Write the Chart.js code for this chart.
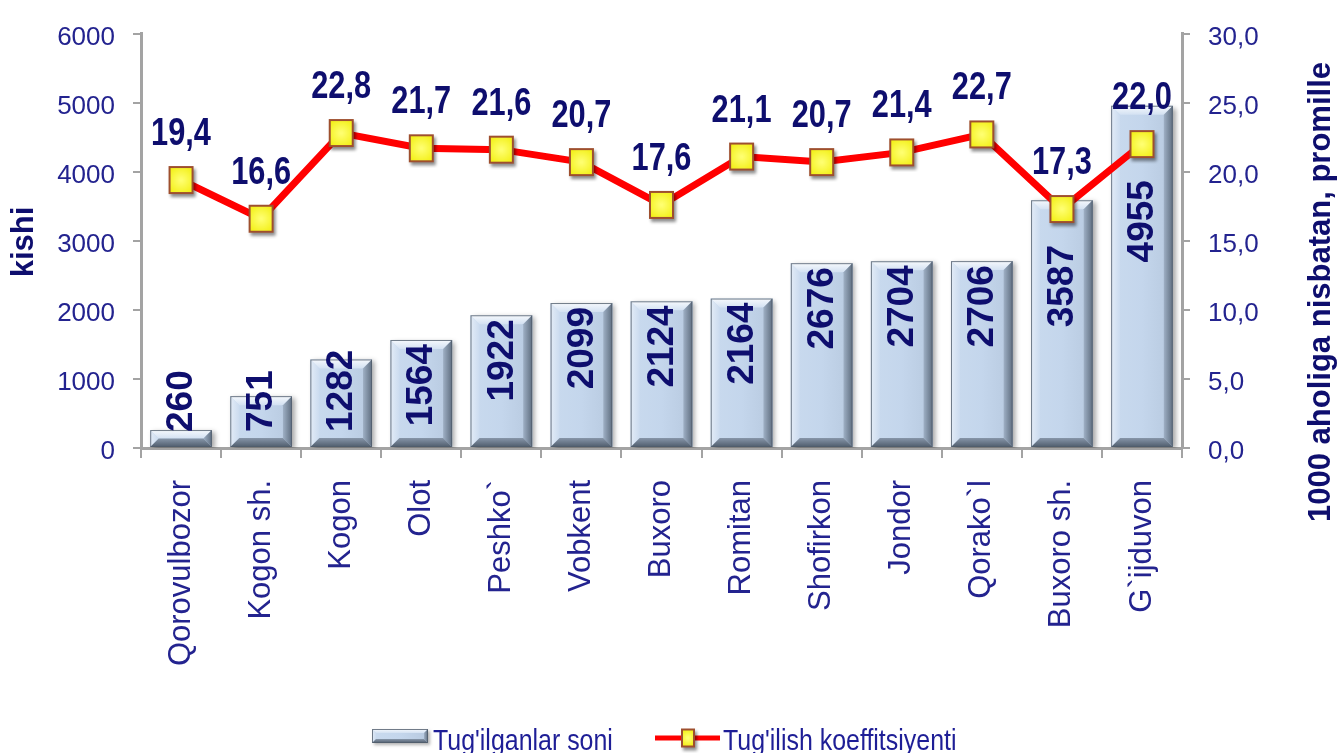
<!DOCTYPE html>
<html><head><meta charset="utf-8">
<style>html,body{margin:0;padding:0;background:#fff;}#wrap{width:1338px;height:753px;position:relative;}</style>
<script src="https://cdn.jsdelivr.net/npm/chart.js@4.4.1/dist/chart.umd.min.js"></script>
</head><body><div id="wrap"><canvas id="c" width="1338" height="753"></canvas></div>
<script>
const categories = ['Qorovulbozor','Kogon sh.','Kogon','Olot','Peshko`','Vobkent','Buxoro','Romitan','Shofirkon','Jondor','Qorako`l','Buxoro sh.','G`ijduvon'];
const births = [260,751,1282,1564,1922,2099,2124,2164,2676,2704,2706,3587,4955];
const rates = [19.4,16.6,22.8,21.7,21.6,20.7,17.6,21.1,20.7,21.4,22.7,17.3,22.0];
const birthsLabel = "Tug'ilganlar soni";
const ratesLabel = "Tug'ilish koeffitsiyenti";
const leftTitle = 'kishi';
const rightTitle = '1000 aholiga nisbatan, promille';
const leftRange = [0, 6000, 1000];
const rightRange = [0, 30, 5];

const NAVY = '#0e0e6e';
const TICK = '#23238f';
const AXIS = '#a3a3a3';
const FONT = '"Liberation Sans", Arial, sans-serif';
const fmt = v => v.toFixed(1).replace('.', ',');

function makeMarker(w, h, bw) {
  const pad = 6, c = document.createElement('canvas');
  c.width = w + pad * 2; c.height = h + pad * 2;
  const g = c.getContext('2d');
  g.shadowColor = 'rgba(0,0,0,0.45)'; g.shadowBlur = 3; g.shadowOffsetX = 2; g.shadowOffsetY = 3;
  g.fillStyle = '#9e4f2e'; g.fillRect(pad, pad, w, h);
  g.shadowColor = 'transparent';
  const gr = g.createRadialGradient(pad + w / 2, pad + h / 2, 1, pad + w / 2, pad + h / 2, w * 0.75);
  gr.addColorStop(0, '#ffff70'); gr.addColorStop(1, '#f0ec00');
  g.fillStyle = gr; g.fillRect(pad + bw, pad + bw, w - 2 * bw, h - 2 * bw);
  return c;
}
const plotMarker = makeMarker(25, 28, 2);
const legendMarker = makeMarker(14, 19, 2);

function bevelBar(ctx, x0, x1, top, bottom, bSize) {
  const b = Math.min(bSize, (bottom - top) / 2, (x1 - x0) / 2);
  let g = ctx.createLinearGradient(x0, 0, x1, 0);
  g.addColorStop(0, '#c9daee'); g.addColorStop(0.5, '#c4d6ec'); g.addColorStop(1, '#b7c9df');
  ctx.fillStyle = g; ctx.fillRect(x0, top, x1 - x0, bottom - top);
  g = ctx.createLinearGradient(0, top, 0, top + b);
  g.addColorStop(0, '#f6f9fd'); g.addColorStop(1, '#d3e1f2');
  ctx.fillStyle = g; ctx.beginPath();
  ctx.moveTo(x0, top); ctx.lineTo(x1, top); ctx.lineTo(x1 - b, top + b); ctx.lineTo(x0 + b, top + b); ctx.closePath(); ctx.fill();
  g = ctx.createLinearGradient(x0, 0, x0 + b, 0);
  g.addColorStop(0, '#e3ecf7'); g.addColorStop(1, '#cbdbef');
  ctx.fillStyle = g; ctx.beginPath();
  ctx.moveTo(x0, top); ctx.lineTo(x0 + b, top + b); ctx.lineTo(x0 + b, bottom - b); ctx.lineTo(x0, bottom); ctx.closePath(); ctx.fill();
  g = ctx.createLinearGradient(x1 - b, 0, x1, 0);
  g.addColorStop(0, '#9fb0c5'); g.addColorStop(1, '#5f6e80');
  ctx.fillStyle = g; ctx.beginPath();
  ctx.moveTo(x1, top); ctx.lineTo(x1, bottom); ctx.lineTo(x1 - b, bottom - b); ctx.lineTo(x1 - b, top + b); ctx.closePath(); ctx.fill();
  g = ctx.createLinearGradient(0, bottom - b, 0, bottom);
  g.addColorStop(0, '#8796a9'); g.addColorStop(1, '#4f5c6c');
  ctx.fillStyle = g; ctx.beginPath();
  ctx.moveTo(x0, bottom); ctx.lineTo(x1, bottom); ctx.lineTo(x1 - b, bottom - b); ctx.lineTo(x0 + b, bottom - b); ctx.closePath(); ctx.fill();
  ctx.strokeStyle = 'rgba(80,92,108,0.8)'; ctx.lineWidth = 1;
  ctx.strokeRect(x0 + 0.5, top + 0.5, x1 - x0 - 1, bottom - top - 1);
}

const decor = {
  id: 'decor',
  beforeDatasetDraw(chart, args) {
    if (args.index === 0) {
      const ctx = chart.ctx;
      ctx.save();
      ctx.shadowColor = 'rgba(0,0,0,0.35)'; ctx.shadowBlur = 5; ctx.shadowOffsetX = 3; ctx.shadowOffsetY = 2;
    }
  },
  afterDatasetDraw(chart, args) {
    const ctx = chart.ctx;
    if (args.index === 0) {
      ctx.restore();
      const meta = chart.getDatasetMeta(0);
      const lineMeta = chart.getDatasetMeta(1);
      meta.data.forEach((el) => {
        const p = el.getProps(['x', 'y', 'base', 'width'], true);
        bevelBar(ctx, p.x - p.width / 2, p.x + p.width / 2, p.y, p.base, 9);
      });
      ctx.save();
      ctx.font = 'bold 37px ' + FONT;
      ctx.fillStyle = NAVY;
      ctx.textAlign = 'right'; ctx.textBaseline = 'middle';
      meta.data.forEach((el, i) => {
        const p = el.getProps(['x', 'y', 'base'], true);
        const txt = String(births[i]);
        const len = ctx.measureText(txt).width;
        const my = lineMeta.data[i].y;
        let top = Math.max(p.y + 4, my + 36);
        if (top + len > p.base - 15) top = p.base - 15 - len;
        ctx.save(); ctx.translate(p.x + 1, top); ctx.rotate(-Math.PI / 2);
        ctx.fillText(txt, 0, 0); ctx.restore();
      });
      ctx.restore();
    }
    if (args.index === 1) {
      const meta = chart.getDatasetMeta(1);
      ctx.save();
      ctx.font = 'bold 38px ' + FONT;
      ctx.fillStyle = NAVY; ctx.textAlign = 'center'; ctx.textBaseline = 'alphabetic';
      meta.data.forEach((pt, i) => {
        ctx.save(); ctx.translate(pt.x, pt.y - 35); ctx.scale(0.81, 1);
        ctx.fillText(fmt(rates[i]), 0, 0); ctx.restore();
      });
      ctx.restore();
    }
  },
  afterDraw(chart) {
    const ctx = chart.ctx;
    ctx.save();
    ctx.fillStyle = NAVY; ctx.font = 'bold 31px ' + FONT;
    ctx.textAlign = 'center'; ctx.textBaseline = 'alphabetic';
    ctx.save(); ctx.translate(33, 242); ctx.rotate(-Math.PI / 2); ctx.fillText(leftTitle, 0, 0); ctx.restore();
    ctx.save(); ctx.translate(1330, 292); ctx.rotate(-Math.PI / 2); ctx.fillText(rightTitle, 0, 0); ctx.restore();
    ctx.save();
    ctx.shadowColor = 'rgba(0,0,0,0.3)'; ctx.shadowBlur = 3; ctx.shadowOffsetX = 2; ctx.shadowOffsetY = 2;
    ctx.fillStyle = '#c4d6ec'; ctx.fillRect(372, 729, 56, 14);
    ctx.restore();
    bevelBar(ctx, 372, 428, 729, 743, 4);
    ctx.font = '29px ' + FONT; ctx.fillStyle = '#1e1e96'; ctx.textAlign = 'left';
    ctx.save(); ctx.translate(433, 750); ctx.scale(0.86, 1); ctx.fillText(birthsLabel, 0, 0); ctx.restore();
    ctx.strokeStyle = '#ff0000'; ctx.lineWidth = 5; ctx.beginPath(); ctx.moveTo(655, 738); ctx.lineTo(720, 738); ctx.stroke();
    ctx.drawImage(legendMarker, 688 - legendMarker.width / 2, 738 - legendMarker.height / 2);
    ctx.save(); ctx.translate(723, 750); ctx.scale(0.86, 1); ctx.fillText(ratesLabel, 0, 0); ctx.restore();
    ctx.restore();
  }
};

new Chart(document.getElementById('c'), {
  data: {
    labels: categories,
    datasets: [
      { type: 'bar', label: birthsLabel, data: births, yAxisID: 'y', order: 2,
        backgroundColor: '#c4d6ec', borderWidth: 0, categoryPercentage: 1, barPercentage: 0.77 },
      { type: 'line', label: ratesLabel, data: rates, yAxisID: 'y1', order: 1,
        borderColor: '#ff0000', borderWidth: 7, tension: 0, fill: false,
        pointStyle: plotMarker, pointRadius: 14, pointHoverRadius: 14 }
    ]
  },
  options: {
    responsive: false, animation: false, devicePixelRatio: 1,
    layout: { padding: { top: 28, left: 0, right: 0, bottom: 0 } },
    plugins: { legend: { display: false }, tooltip: { enabled: false } },
    scales: {
      x: {
        type: 'category', offset: true,
        grid: { offset: true, drawOnChartArea: false, drawTicks: true, tickLength: 10, color: AXIS, lineWidth: 2 },
        border: { color: AXIS, width: 3 },
        ticks: { autoSkip: false, maxRotation: 90, minRotation: 90, padding: 22, color: TICK, font: { family: FONT, size: 31 } },
        afterFit(s) { s.height = 305; }
      },
      y: {
        position: 'left', min: leftRange[0], max: leftRange[1],
        grid: { drawOnChartArea: false, drawTicks: true, tickLength: 8, color: AXIS, lineWidth: 2 },
        border: { color: AXIS, width: 3 },
        ticks: { stepSize: leftRange[2], padding: 18, labelOffset: 4, color: TICK, font: { family: FONT, size: 26 }, callback: v => String(v) },
        afterFit(s) { s.width = 141; }
      },
      y1: {
        position: 'right', min: rightRange[0], max: rightRange[1],
        grid: { drawOnChartArea: false, drawTicks: true, tickLength: 8, color: AXIS, lineWidth: 2 },
        border: { color: AXIS, width: 3 },
        ticks: { stepSize: rightRange[2], padding: 18, labelOffset: 4, color: TICK, font: { family: FONT, size: 26 }, callback: v => fmt(v) },
        afterFit(s) { s.width = 156; }
      }
    }
  },
  plugins: [decor]
});
</script></body></html>
